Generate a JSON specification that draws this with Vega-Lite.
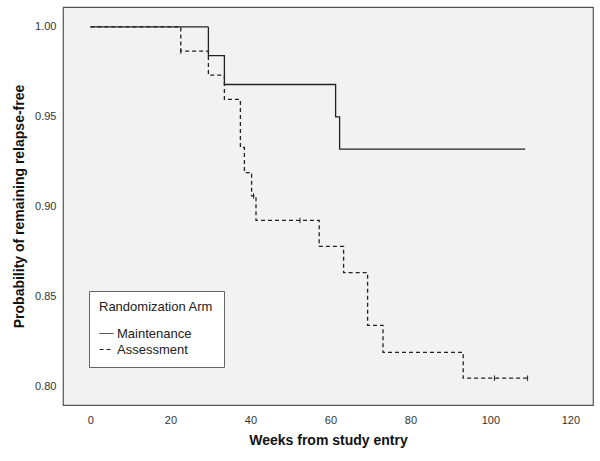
{
  "$schema": "https://vega.github.io/schema/vega-lite/v6.json",
  "autosize": {"type": "none"},
  "width": 530,
  "height": 398,
  "padding": {"left": 63, "top": 7, "right": 7, "bottom": 56},
  "background": "white",
  "config": {
    "font": "Liberation Sans",
    "view": {"fill": "#f2f2f2", "stroke": "#555555", "strokeWidth": 1.2},
    "axis": {
      "grid": false,
      "domain": false,
      "ticks": false,
      "labelFont": "Liberation Sans",
      "labelFontSize": 11,
      "labelColor": "#333333",
      "titleFont": "Liberation Sans",
      "titleFontSize": 14,
      "titleFontWeight": "bold",
      "titleColor": "#111111"
    }
  },
  "datasets": {
    "curves": [
      {"arm": "Maintenance", "week": 0, "surv": 1.0},
      {"arm": "Maintenance", "week": 29.5, "surv": 0.984},
      {"arm": "Maintenance", "week": 33.5, "surv": 0.968},
      {"arm": "Maintenance", "week": 61.3, "surv": 0.950},
      {"arm": "Maintenance", "week": 62.3, "surv": 0.932},
      {"arm": "Maintenance", "week": 108.7, "surv": 0.932},
      {"arm": "Assessment", "week": 0, "surv": 1.0},
      {"arm": "Assessment", "week": 22.6, "surv": 0.9865},
      {"arm": "Assessment", "week": 29.5, "surv": 0.9732},
      {"arm": "Assessment", "week": 33.5, "surv": 0.9597},
      {"arm": "Assessment", "week": 37.5, "surv": 0.933},
      {"arm": "Assessment", "week": 38.5, "surv": 0.919},
      {"arm": "Assessment", "week": 40.3, "surv": 0.906},
      {"arm": "Assessment", "week": 41.4, "surv": 0.8924},
      {"arm": "Assessment", "week": 57.2, "surv": 0.8779},
      {"arm": "Assessment", "week": 63.3, "surv": 0.8633},
      {"arm": "Assessment", "week": 69.3, "surv": 0.834},
      {"arm": "Assessment", "week": 73.15, "surv": 0.819},
      {"arm": "Assessment", "week": 93.2, "surv": 0.8046},
      {"arm": "Assessment", "week": 109.3, "surv": 0.8046}
    ],
    "censor": [
      {"arm": "Assessment", "week": 22.6, "surv": 0.9865},
      {"arm": "Assessment", "week": 40.8, "surv": 0.906},
      {"arm": "Assessment", "week": 52.4, "surv": 0.8924},
      {"arm": "Assessment", "week": 101, "surv": 0.8046},
      {"arm": "Assessment", "week": 109.3, "surv": 0.8046}
    ]
  },
  "layer": [
    {
      "data": {"name": "curves"},
      "mark": {"type": "line", "interpolate": "step-after", "color": "#222222", "strokeWidth": 1.3},
      "encoding": {
        "x": {
          "field": "week",
          "type": "quantitative",
          "scale": {"domain": [-6.85, 125.65], "nice": false, "zero": false},
          "axis": {"values": [0, 20, 40, 60, 80, 100, 120], "title": "Weeks from study entry", "labelPadding": 9, "titlePadding": 8}
        },
        "y": {
          "field": "surv",
          "type": "quantitative",
          "scale": {"domain": [0.7897, 1.0111], "nice": false, "zero": false},
          "axis": {"values": [0.8, 0.85, 0.9, 0.95, 1.0], "format": ".2f", "title": "Probability of remaining relapse-free", "labelPadding": 7, "titlePadding": 8}
        },
        "strokeDash": {
          "field": "arm",
          "type": "nominal",
          "scale": {"domain": ["Maintenance", "Assessment"], "range": [[1, 0], [4, 3]]},
          "legend": {
            "title": "Randomization Arm  ",
            "orient": "none",
            "legendX": 26,
            "legendY": 284,
            "direction": "vertical",
            "fillColor": "white",
            "strokeColor": "#666666",
            "padding": 10,
            "titleFont": "Liberation Sans",
            "titleFontSize": 13,
            "titleFontWeight": "normal",
            "titleColor": "#222222",
            "titlePadding": 12,
            "labelFont": "Liberation Sans",
            "labelFontSize": 13,
            "labelColor": "#222222",
            "labelOffset": 3,
            "symbolType": "stroke",
            "symbolSize": 196,
            "symbolStrokeColor": "#222222",
            "symbolStrokeWidth": 1,
            "rowPadding": 1
          }
        }
      }
    },
    {
      "data": {"name": "censor"},
      "mark": {"type": "point", "shape": "M0,-1L0,1", "stroke": "#222222", "strokeWidth": 1, "size": 30, "filled": false, "opacity": 1},
      "encoding": {
        "x": {"field": "week", "type": "quantitative"},
        "y": {"field": "surv", "type": "quantitative"}
      }
    }
  ]
}
